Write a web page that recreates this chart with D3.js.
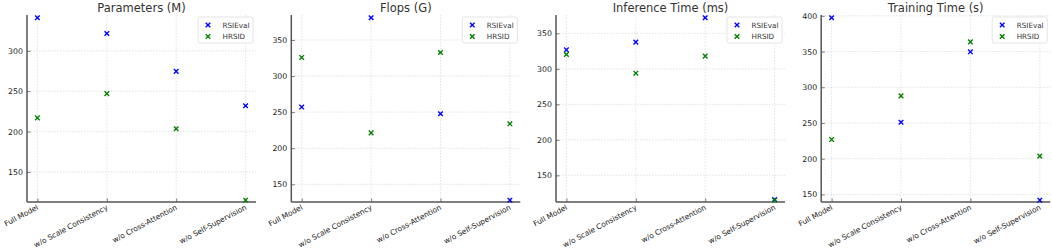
<!DOCTYPE html>
<html>
<head>
<meta charset="utf-8">
<script src="https://cdn.jsdelivr.net/npm/d3@7"></script>
<style>
  body { margin: 0; background: #fff; }
  svg { display: block; font-family: "DejaVu Sans", sans-serif; }
</style>
</head>
<body>
<svg id="chart" width="1052" height="252"></svg>
<script>
const categories = ["Full Model", "w/o Scale Consistency", "w/o Cross-Attention", "w/o Self-Supervision"];
const titles = ["Parameters (M)", "Flops (G)", "Inference Time (ms)", "Training Time (s)"];
const seriesNames = ["RSIEval", "HRSID"];

// values per panel, per category
const paramsRSIEval = [341, 321.5, 274.6, 232];
const paramsHRSID = [217, 247, 203.5, 115];
const flopsRSIEval = [257, 380.8, 247.7, 128];
const flopsHRSID = [325.8, 221.3, 332.7, 233.8];
const inferRSIEval = [326.8, 337.7, 372, 116];
const inferHRSID = [320.2, 293.9, 317.9, 115];
const trainRSIEval = [397.3, 251, 349.6, 142];
const trainHRSID = [226.8, 288, 363.5, 203.6];

const panels = [
  {title: titles[0], series: [paramsRSIEval, paramsHRSID]},
  {title: titles[1], series: [flopsRSIEval, flopsHRSID]},
  {title: titles[2], series: [inferRSIEval, inferHRSID]},
  {title: titles[3], series: [trainRSIEval, trainHRSID]}
];

const colors = ["#0000ff", "#008000"];
const svg = d3.select("#chart");

const lefts = [27, 291.3, 556, 821.2];
const pw = 229, plotTop = 15, plotBottom = 202;

panels.forEach((p, i) => {
  let g = svg.append("g").attr("transform", `translate(${lefts[i]},0)`);

  let x = d3.scalePoint().domain(categories).range([0, pw]).padding(0.15);
  let all = p.series.flat();
  let ext = d3.extent(all), span = ext[1] - ext[0];
  let y = d3.scaleLinear().domain([ext[0] - span * 0.01, ext[1] + span * 0.015]).range([plotBottom, plotTop]);
  let yt = d3.range(150, ext[1] + span * 0.015, 50);

  // grid
  g.selectAll(".hg").data(yt).enter().append("line")
    .attr("x1", 0).attr("x2", pw)
    .attr("y1", d => y(d)).attr("y2", d => y(d))
    .attr("stroke", "#d0d0d0").attr("stroke-width", 0.6).attr("stroke-dasharray", "1.5,1.5");
  g.selectAll(".vg").data(categories).enter().append("line")
    .attr("x1", d => x(d)).attr("x2", d => x(d))
    .attr("y1", plotTop).attr("y2", plotBottom)
    .attr("stroke", "#d0d0d0").attr("stroke-width", 0.6).attr("stroke-dasharray", "1.5,1.5");

  // y axis
  let yAxis = d3.axisLeft(y).tickValues(yt).tickSizeInner(-3.5).tickSizeOuter(0).tickPadding(5);
  let ya = g.append("g").call(yAxis);
  ya.select(".domain").remove();
  ya.selectAll(".tick line").attr("stroke", "#555").attr("stroke-width", 0.8);
  ya.selectAll(".tick text").attr("font-size", 7.8).attr("fill", "#222")
    .attr("font-family", "DejaVu Sans").attr("x", -4);

  // x axis
  let xAxis = d3.axisBottom(x).tickSizeInner(-3.5).tickSizeOuter(0).tickPadding(3);
  let xa = g.append("g").attr("transform", `translate(0,${plotBottom})`).call(xAxis);
  xa.select(".domain").remove();
  xa.selectAll(".tick line").attr("stroke", "#555").attr("stroke-width", 0.8);
  xa.selectAll(".tick text").attr("font-size", 7.4).attr("fill", "#222")
    .attr("font-family", "DejaVu Sans")
    .attr("text-anchor", "end").attr("dy", null).attr("y", 0)
    .attr("transform", "translate(1,7) rotate(-28)");

  // spines
  g.append("line").attr("x1", 0).attr("x2", 0).attr("y1", plotTop).attr("y2", plotBottom)
    .attr("stroke", "#555").attr("stroke-width", 1.5);
  g.append("line").attr("x1", 0).attr("x2", pw).attr("y1", plotBottom).attr("y2", plotBottom)
    .attr("stroke", "#555").attr("stroke-width", 1.5);

  // markers
  let s = 2.3;
  p.series.forEach((vals, k) => {
    g.append("g").selectAll("path").data(vals).enter().append("path")
      .attr("d", (d, j) => {
        let cx = x(categories[j]), cy = y(d);
        return `M${cx - s},${cy - s}L${cx + s},${cy + s}M${cx - s},${cy + s}L${cx + s},${cy - s}`;
      })
      .attr("stroke", colors[k]).attr("stroke-width", 1.4).attr("fill", "none");
  });

  // title
  g.append("text").attr("x", pw / 2).attr("y", 11.5).attr("text-anchor", "middle")
    .attr("font-size", 11.5).attr("fill", "#333").text(p.title);

  // legend
  let lg = g.append("g").attr("transform", `translate(${pw - 58},17)`);
  lg.append("rect").attr("width", 55).attr("height", 26).attr("rx", 2)
    .attr("fill", "#fff").attr("fill-opacity", 0.85).attr("stroke", "#ddd").attr("stroke-width", 0.8);
  seriesNames.forEach((n, k) => {
    let cy = 8 + k * 11.5, cx = 10;
    lg.append("path")
      .attr("d", `M${cx - s},${cy - s}L${cx + s},${cy + s}M${cx - s},${cy + s}L${cx + s},${cy - s}`)
      .attr("stroke", colors[k]).attr("stroke-width", 1.4);
    lg.append("text").attr("x", 24.5).attr("y", cy + 2.5).attr("font-size", 7.2)
      .attr("fill", "#333").text(n);
  });
});
</script>
</body>
</html>
